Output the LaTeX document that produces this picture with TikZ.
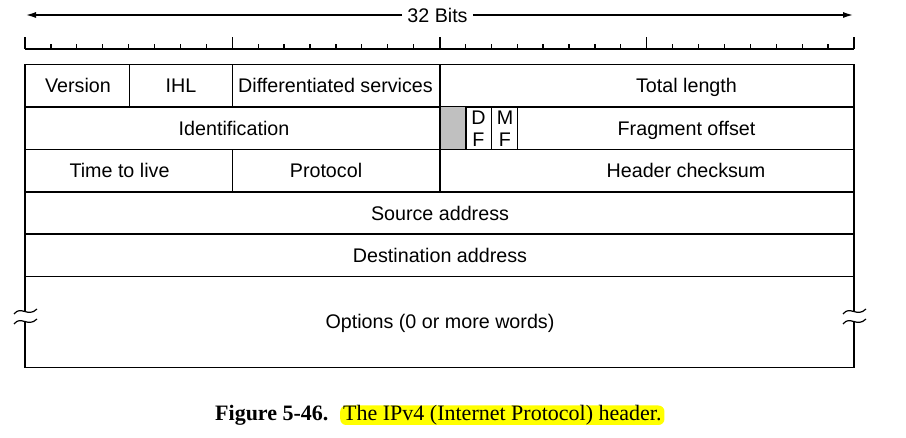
\documentclass[tikz,border=0pt]{standalone}
\usepackage{fontspec}
\setmainfont{Liberation Sans}
\newfontfamily\capfont{Liberation Serif}
\usetikzlibrary{arrows.meta}
\definecolor{hl}{RGB}{255,255,0}
\definecolor{greycell}{RGB}{192,192,192}
\begin{document}
\begin{tikzpicture}[x=1pt,y=-1pt,
  lbl/.style={inner sep=0pt, text height=14.1pt, text depth=0pt, font=\fontsize{19.7}{22}\selectfont},
  gridline/.style={line width=1.3pt},
  thickline/.style={line width=2.2pt},
  wave/.style={line width=1.2pt},
  caption/.style={inner sep=0pt, font=\capfont\fontsize{22}{26}\selectfont}
]
\useasboundingbox (0,0) rectangle (906,438);

% ---- ruler and width arrow
\node[lbl, inner xsep=5pt] (bits) at (437.5,15) {32 Bits};
\coordinate (al) at (25,15);
\coordinate (ar) at (854,15);
\draw[line width=2pt, -{Latex[length=11pt,width=6pt]}] (bits.west) -- (al);
\draw[line width=2pt, -{Latex[length=11pt,width=6pt]}] (bits.east) -- (ar);

\draw[line width=1.5pt] (25,49) -- (854,49);
\foreach \k in {0,...,32} {
  \draw[line width=1.3pt] ({25+\k*25.90625},49) -- ({25+\k*25.90625},44);
}
\foreach \k in {0,8,24,32} {
  \draw[line width=1.3pt] ({25+\k*25.90625},49) -- ({25+\k*25.90625},37);
}
\draw[thickline] (440,49) -- (440,37);

% ---- table grid
\draw[gridline] (25,64.5) -- (854,64.5);
\draw[gridline] (25,107) -- (854,107);
\draw[gridline] (25,149.5) -- (854,149.5);
\draw[gridline] (25,192) -- (854,192);
\draw[gridline] (25,234) -- (854,234);
\draw[gridline] (25,276.5) -- (854,276.5);
\draw[line width=1.8pt] (25,367.5) -- (854,367.5);

% outer sides with break marks
\draw[gridline] (25,64.5) -- (25,311);
\draw[gridline] (25,321) -- (25,368.4);
\draw[gridline] (854,64.5) -- (854,311);
\draw[gridline] (854,321) -- (854,368.4);
\foreach \xo in {25,854} {
  \draw[wave] ({\xo-11},314) .. controls ({\xo-4},305) and ({\xo+3},318) .. ({\xo+12},309);
  \draw[wave] ({\xo-11},324) .. controls ({\xo-4},315) and ({\xo+3},328) .. ({\xo+12},319);
}

% inner verticals
\draw[gridline] (129.6,64.5) -- (129.6,107);
\draw[gridline] (232.3,64.5) -- (232.3,107);
\draw[gridline] (232.3,149.5) -- (232.3,192);
\fill[greycell] (440,107) rectangle (465.9,149.5);
\draw[gridline] (465.9,107) -- (465.9,149.5);
\draw[gridline] (491.8,107) -- (491.8,149.5);
\draw[gridline] (517.7,107) -- (517.7,149.5);
\draw[thickline] (440,64.5) -- (440,192);

% ---- field labels
\node[lbl] (ver) at (78,85.75) {Version};
\node[lbl] (ihl) at (181,85.75) {IHL};
\node[lbl] (ds) at (335.5,85.75) {Differentiated services};
\node[lbl] (tl) at (686.5,85.75) {Total length};
\node[lbl] (id) at (234,128.25) {Identification};
\node[lbl] (d1) at (478.5,117.5) {D};
\node[lbl] (f1) at (478.5,139.5) {F};
\node[lbl] (m2) at (505,117.5) {M};
\node[lbl] (f2) at (505,139.5) {F};
\node[lbl] (fo) at (686.5,128.25) {Fragment offset};
\node[lbl] (ttl) at (119.5,170.75) {Time to live};
\node[lbl] (proto) at (326,170.75) {Protocol};
\node[lbl] (hc) at (686,170.75) {Header checksum};
\node[lbl] (src) at (440,213) {Source address};
\node[lbl] (dst) at (440,255.25) {Destination address};
\node[lbl] (opt) at (440,321.5) {Options (0 or more words)};

% ---- caption
\node[caption, anchor=base west] (fig) at (215,421) {\bfseries Figure 5-46.};
\node[caption, anchor=base west, fill=hl, rounded corners=6pt, inner xsep=3pt, inner ysep=0.5pt, text height=15pt, text depth=3.5pt] (ctext) at (340,421) {The IPv4 (Internet Protocol) header.};
\end{tikzpicture}
\end{document}
